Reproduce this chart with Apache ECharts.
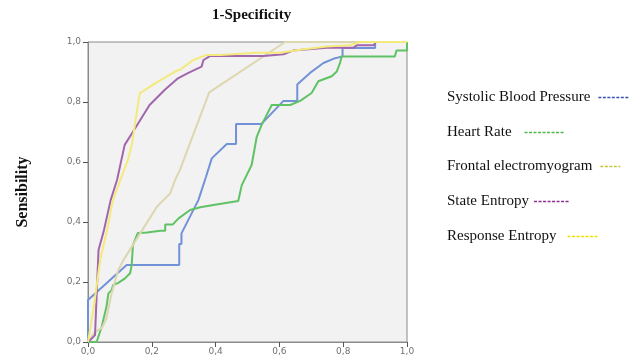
<!DOCTYPE html>
<html>
<head>
<meta charset="utf-8">
<title>ROC curves</title>
<script src="https://cdn.jsdelivr.net/npm/echarts@6/dist/echarts.min.js"></script>
<style>
  html, body { margin: 0; padding: 0; background: #fff; }
  #chart { width: 643px; height: 359px; }
</style>
</head>
<body>
<div id="chart"></div>
<script>
// values, [1-specificity, sensibility]
const names = ['Systolic Blood Pressure', 'Heart Rate', 'Frontal electromyogram', 'State Entropy', 'Response Entropy'];
const axisTicks = [0, 0.2, 0.4, 0.6, 0.8, 1.0];

const sbpPoints = [[0,0],[0,0.14],[0.121,0.257],[0.286,0.257],[0.286,0.327],[0.293,0.327],[0.293,0.362],
  [0.346,0.473],[0.37,0.551],[0.388,0.612],[0.435,0.66],[0.464,0.66],[0.464,0.727],[0.544,0.727],
  [0.612,0.803],[0.656,0.803],[0.656,0.858],[0.696,0.897],[0.738,0.93],[0.769,0.944],[0.798,0.952],
  [0.798,0.98],[0.9,0.98],[0.9,1],[1,1]];

const hrPoints = [[0,0],[0.027,0],[0.043,0.051],[0.058,0.118],[0.064,0.162],[0.074,0.173],[0.079,0.19],
  [0.095,0.197],[0.116,0.212],[0.132,0.229],[0.137,0.257],[0.141,0.324],[0.156,0.363],[0.185,0.365],
  [0.227,0.371],[0.242,0.371],[0.242,0.392],[0.266,0.392],[0.284,0.412],[0.32,0.44],[0.352,0.449],
  [0.393,0.457],[0.471,0.47],[0.482,0.523],[0.513,0.59],[0.529,0.684],[0.544,0.723],[0.576,0.79],
  [0.634,0.79],[0.665,0.804],[0.701,0.83],[0.722,0.869],[0.764,0.886],[0.78,0.902],[0.79,0.93],
  [0.795,0.952],[0.962,0.952],[0.967,0.972],[1,0.972],[1,1]];

const femgPoints = [[0,0],[0.022,0.034],[0.043,0.046],[0.058,0.079],[0.074,0.162],[0.095,0.24],
  [0.111,0.273],[0.164,0.363],[0.216,0.451],[0.258,0.496],[0.273,0.54],[0.288,0.573],[0.38,0.832],
  [0.618,1],[1,1]];

const sePoints = [[0,0],[0.012,0.012],[0.022,0.023],[0.033,0.307],[0.049,0.368],[0.071,0.473],
  [0.091,0.54],[0.115,0.657],[0.141,0.701],[0.193,0.79],[0.24,0.84],[0.282,0.879],[0.313,0.896],
  [0.356,0.918],[0.362,0.94],[0.382,0.953],[0.55,0.953],[0.613,0.959],[0.644,0.972],[0.748,0.981],
  [0.832,0.981],[0.843,0.989],[0.895,0.989],[0.903,1],[1,1]];

const rePoints = [[0,0],[0.004,0],[0.017,0.107],[0.038,0.273],[0.06,0.374],[0.078,0.473],[0.106,0.553],
  [0.125,0.607],[0.138,0.662],[0.162,0.829],[0.219,0.868],[0.277,0.904],[0.288,0.907],[0.33,0.94],
  [0.372,0.957],[0.415,0.957],[0.529,0.964],[0.602,0.964],[0.665,0.974],[0.748,0.985],[0.82,0.989],
  [0.853,1],[1,1]];

const curveColors = ['#7292d8', '#5fc264', '#ddd7b0', '#a266ad', '#f4ea7c'];
const legendColors = ['#3b4fb5', '#4cb84c', '#c9c43e', '#8e2a8e', '#f0e000'];

const chart = echarts.init(document.getElementById('chart'));

const serif = 'Liberation Serif';
const axisGray = '#8a8a8a';
const labelStyle = {
  color: '#707070',
  fontFamily: 'DejaVu Sans',
  fontSize: 9,
  formatter: v => v.toFixed(1).replace('.', ',')
};

// one legend box per entry so each dash can sit at its own distance
const legendRows = [
  { top: 90,  width: 30, gap: 3 },
  { top: 125, width: 40, gap: 8 },
  { top: 159, width: 20, gap: 3 },
  { top: 194, width: 35, gap: 0 },
  { top: 229, width: 31, gap: 6 }
];

const legends = legendRows.map((row, i) => ({
  left: 447,
  top: row.top,
  orient: 'vertical',
  align: 'right',
  padding: 0,
  itemWidth: row.width,
  itemHeight: 14,
  selectedMode: false,
  textStyle: {
    fontFamily: serif,
    fontSize: 15,
    color: '#111',
    padding: [0, row.gap, 0, 0]
  },
  data: [{
    name: names[i],
    itemStyle: { color: 'rgba(0,0,0,0)', opacity: 0 },
    lineStyle: { color: legendColors[i], width: 1.3, type: [3, 1.5] }
  }]
}));

const curves = [sbpPoints, hrPoints, femgPoints, sePoints, rePoints];

const option = {
  animation: false,
  title: {
    text: '1-Specificity',
    left: 212,
    top: 8,
    padding: 0,
    textStyle: { fontFamily: serif, fontSize: 15, fontWeight: 'bold', color: '#111' }
  },
  legend: legends,
  grid: {
    left: 88,
    right: 236,
    top: 42,
    bottom: 17,
    show: true,
    backgroundColor: '#f2f2f2',
    borderColor: axisGray,
    borderWidth: 1
  },
  xAxis: {
    type: 'value',
    min: 0,
    max: 1,
    interval: 0.2,
    axisLine: { show: true, lineStyle: { color: axisGray } },
    axisTick: { show: true, length: 5, lineStyle: { color: '#555' } },
    axisLabel: Object.assign({ margin: 5 }, labelStyle),
    splitLine: { show: false }
  },
  yAxis: {
    type: 'value',
    min: 0,
    max: 1,
    interval: 0.2,
    name: 'Sensibility',
    nameLocation: 'middle',
    nameRotate: 90,
    nameGap: 57,
    nameTextStyle: { fontFamily: serif, fontSize: 16, fontWeight: 'bold', color: '#111' },
    axisLine: { show: true, lineStyle: { color: axisGray } },
    axisTick: { show: true, length: 5, lineStyle: { color: '#555' } },
    axisLabel: Object.assign({ margin: 7 }, labelStyle),
    splitLine: { show: false }
  },
  series: curves.map((pts, i) => ({
    name: names[i],
    type: 'line',
    data: pts,
    symbol: 'none',
    lineStyle: { color: curveColors[i], width: 2 },
    itemStyle: { color: curveColors[i] }
  }))
};

chart.setOption(option);
</script>
</body>
</html>
